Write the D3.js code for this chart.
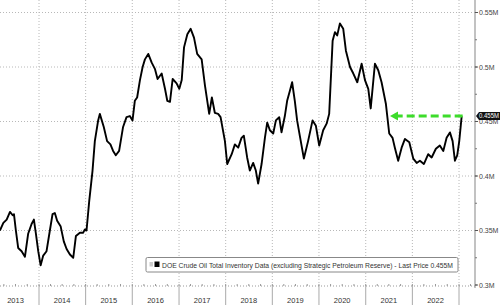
<!DOCTYPE html>
<html>
<head>
<meta charset="utf-8">
<script src="https://cdn.jsdelivr.net/npm/d3@7"></script>
<style>
  body { margin: 0; background: #fff; }
  svg { display: block; font-family: "Liberation Sans", Arial, sans-serif; }
</style>
</head>
<body>
<div id="chart"></div>
<script>
// data
const dates = ["2013-03-01","2013-03-28","2013-04-23","2013-05-19","2013-06-09","2013-06-19","2013-07-04","2013-07-22","2013-08-18","2013-09-13",
  "2013-10-08","2013-11-04","2013-11-22","2013-12-08","2013-12-26","2014-01-14","2014-02-03","2014-03-01","2014-03-27","2014-04-17",
  "2014-05-05","2014-05-23","2014-06-19","2014-07-14","2014-08-05","2014-08-31","2014-09-26","2014-10-17","2014-11-17","2014-12-13",
  "2014-12-26","2015-01-08","2015-01-29","2015-02-24","2015-03-14","2015-04-09","2015-04-22","2015-05-23","2015-06-18","2015-07-14",
  "2015-08-04","2015-08-25","2015-09-20","2015-10-21","2015-11-17","2015-12-13","2016-01-03","2016-01-21","2016-02-08","2016-03-01",
  "2016-03-22","2016-04-09","2016-05-05","2016-06-01","2016-06-27","2016-07-17","2016-08-18","2016-09-13","2016-10-01","2016-10-22",
  "2016-11-12","2016-12-13","2017-01-03","2017-01-22","2017-02-09","2017-03-07","2017-04-02","2017-04-28","2017-05-23","2017-06-27",
  "2017-07-23","2017-08-25","2017-09-15","2017-10-08","2017-11-03","2017-11-22","2017-12-26","2018-01-13","2018-02-17","2018-03-14",
  "2018-04-09","2018-05-05","2018-05-23","2018-06-18","2018-07-09","2018-08-04","2018-08-25","2018-09-12","2018-10-09","2018-11-04",
  "2018-11-22","2018-12-13","2019-01-08","2019-01-29","2019-02-24","2019-03-14","2019-04-09","2019-04-27","2019-05-18","2019-06-05",
  "2019-06-26","2019-07-14","2019-08-04","2019-09-05","2019-10-08","2019-11-12","2019-12-08","2020-01-03","2020-02-03","2020-03-01",
  "2020-03-21","2020-04-17","2020-05-05","2020-05-23","2020-06-13","2020-07-09","2020-07-30","2020-08-31","2020-09-26","2020-10-27",
  "2020-11-30","2020-12-26","2021-01-21","2021-02-09","2021-03-14","2021-04-09","2021-05-05","2021-06-08","2021-07-04","2021-07-30",
  "2021-08-17","2021-09-12","2021-10-09","2021-11-04","2021-12-08","2022-01-08","2022-02-04","2022-03-01","2022-04-01","2022-05-05",
  "2022-06-01","2022-07-04","2022-08-04","2022-08-31","2022-09-26","2022-10-22","2022-11-12","2022-11-30","2022-12-18","2023-01-03",
  "2023-01-22"]
const inventory = [0.350,0.357,0.360,0.367,0.364,0.365,0.350,0.334,0.331,0.326,
  0.347,0.356,0.360,0.347,0.331,0.318,0.327,0.331,0.350,0.365,
  0.366,0.359,0.354,0.340,0.333,0.328,0.325,0.345,0.348,0.348,
  0.351,0.350,0.377,0.405,0.432,0.451,0.457,0.445,0.432,0.429,
  0.423,0.419,0.423,0.445,0.454,0.455,0.451,0.469,0.472,0.488,
  0.500,0.507,0.512,0.504,0.498,0.489,0.494,0.480,0.469,0.468,
  0.489,0.485,0.480,0.488,0.518,0.530,0.535,0.527,0.512,0.507,
  0.483,0.457,0.472,0.458,0.457,0.454,0.432,0.411,0.420,0.429,
  0.426,0.435,0.437,0.417,0.405,0.412,0.405,0.393,0.411,0.435,
  0.449,0.442,0.439,0.451,0.454,0.440,0.455,0.469,0.478,0.486,
  0.469,0.451,0.437,0.416,0.432,0.451,0.446,0.428,0.442,0.448,
  0.457,0.524,0.532,0.529,0.540,0.535,0.515,0.500,0.494,0.486,
  0.503,0.488,0.480,0.462,0.503,0.497,0.486,0.466,0.439,0.435,
  0.426,0.414,0.426,0.434,0.431,0.416,0.412,0.414,0.411,0.420,
  0.417,0.425,0.428,0.423,0.435,0.440,0.432,0.414,0.419,0.432,
  0.455]
const years = [2013, 2014, 2015, 2016, 2017, 2018, 2019, 2020, 2021, 2022]
const yTicks = [0.3, 0.35, 0.4, 0.45, 0.5, 0.55]
const lastPrice = 0.455
const arrowFrom = "2021-07-10"
const legendText = "DOE Crude Oil Total Inventory Data (excluding Strategic Petroleum Reserve) - Last Price 0.455M"

const width = 500
const height = 305
const plotRight = 475
const axisY = 286

const parse = d3.timeParse("%Y-%m-%d")
const data = dates.map((d, i) => ({ date: parse(d), value: inventory[i] }))

const svg = d3.select("#chart").append("svg")
    .attr("width", width)
    .attr("height", height)

// scales
const x = d3.scaleTime()
    .domain([new Date(2014, 0, 1), new Date(2023, 0, 1)])
    .range([39, 459])
const y = d3.scaleLinear()
    .domain([0.3, 0.55])
    .range([285, 12.5])

// grid
const grid = svg.append("g")
grid.selectAll(".hg").data(yTicks.filter(v => v > 0.3)).join("line")
    .attr("x1", 0).attr("x2", plotRight)
    .attr("y1", d => y(d)).attr("y2", d => y(d))
    .attr("stroke", "#b8b8b8").attr("stroke-dasharray", "1,2")
const boundaries = years.slice(1).concat([2023]).map(yr => new Date(yr, 0, 1))
grid.selectAll(".vg").data(boundaries).join("line")
    .attr("x1", d => x(d)).attr("x2", d => x(d))
    .attr("y1", 0).attr("y2", axisY)
    .attr("stroke", "#b8b8b8").attr("stroke-dasharray", "1,2")

// x axis
const xg = svg.append("g")
xg.append("line")
    .attr("x1", 0).attr("x2", plotRight)
    .attr("y1", axisY).attr("y2", axisY)
    .attr("stroke", "#999").attr("stroke-dasharray", "1,2")
const quarters = d3.timeMonth.every(3).range(new Date(2013, 0, 1), new Date(2023, 6, 1))
xg.selectAll(".qt").data(quarters).join("line")
    .attr("x1", d => x(d)).attr("x2", d => x(d))
    .attr("y1", axisY - 2).attr("y2", axisY)
    .attr("stroke", "#999")
xg.selectAll(".sep").data(boundaries).join("line")
    .attr("x1", d => x(d)).attr("x2", d => x(d))
    .attr("y1", axisY).attr("y2", height)
    .attr("stroke", "#aaa")
xg.selectAll("text").data(years).join("text")
    .attr("x", d => x(new Date(d, 6, 1)))
    .attr("y", 303)
    .attr("text-anchor", "middle")
    .attr("font-size", 7.5)
    .attr("fill", "#333")
    .text(d => d)

// y axis (right)
const yg = svg.append("g")
yg.append("line")
    .attr("x1", plotRight).attr("x2", plotRight)
    .attr("y1", 0).attr("y2", axisY + 2)
    .attr("stroke", "#999").attr("stroke-width", 1.2)
const minor = d3.range(0.3, 0.5751, 0.025)
yg.selectAll(".mt").data(minor).join("line")
    .attr("x1", plotRight).attr("x2", plotRight + 2)
    .attr("y1", d => y(d)).attr("y2", d => y(d))
    .attr("stroke", "#777")
yg.selectAll(".Mt").data(yTicks).join("line")
    .attr("x1", plotRight).attr("x2", plotRight + 3)
    .attr("y1", d => y(d)).attr("y2", d => y(d))
    .attr("stroke", "#555")
yg.selectAll("text").data(yTicks).join("text")
    .attr("x", plotRight + 4)
    .attr("y", d => y(d) + 2.5)
    .attr("font-size", 7)
    .attr("fill", "#444")
    .text(d => d + "M")

// line
svg.append("path")
    .datum(data)
    .attr("fill", "none")
    .attr("stroke", "#000")
    .attr("stroke-width", 1.9)
    .attr("stroke-linejoin", "round")
    .attr("d", d3.line()
        .x(d => x(d.date))
        .y(d => y(d.value)))

// green arrow
const last = data[data.length - 1]
const ay = y(lastPrice)
const ax0 = x(last.date) + 1
const ax1 = x(parse(arrowFrom))
svg.append("line")
    .attr("x1", ax0).attr("x2", ax1 + 7)
    .attr("y1", ay).attr("y2", ay)
    .attr("stroke", "#3ddc2b").attr("stroke-width", 3)
    .attr("stroke-dasharray", "8,4")
svg.append("path")
    .attr("d", `M${ax1},${ay} L${ax1 + 8},${ay - 4.5} L${ax1 + 8},${ay + 4.5} Z`)
    .attr("fill", "#3ddc2b")

// last price tag
const tag = svg.append("g")
tag.append("path")
    .attr("d", `M${plotRight + 1},${ay} L${plotRight + 4},${ay - 4} L${width},${ay - 4} L${width},${ay + 4} L${plotRight + 4},${ay + 4} Z`)
    .attr("fill", "#111")
tag.append("text")
    .attr("x", plotRight + 4)
    .attr("y", ay + 2.4)
    .attr("font-size", 6.6)
    .attr("fill", "#fff")
    .attr("textLength", 20)
    .attr("lengthAdjust", "spacingAndGlyphs")
    .text(lastPrice + "M")

// legend
const lg = svg.append("g")
lg.append("rect")
    .attr("x", 146).attr("y", 257.5)
    .attr("width", 312).attr("height", 14.5)
    .attr("rx", 1.5)
    .attr("fill", "#fff").attr("stroke", "#888")
lg.append("rect")
    .attr("x", 149.5).attr("y", 262).attr("width", 3.5).attr("height", 4.5)
    .attr("fill", "#ccc")
lg.append("rect")
    .attr("x", 154.5).attr("y", 261.5).attr("width", 5).attr("height", 5.5)
    .attr("fill", "#000")
lg.append("text")
    .attr("x", 162).attr("y", 267.5)
    .attr("font-size", 7)
    .attr("fill", "#333")
    .attr("textLength", 291)
    .attr("lengthAdjust", "spacingAndGlyphs")
    .text(legendText)
</script>
</body>
</html>
